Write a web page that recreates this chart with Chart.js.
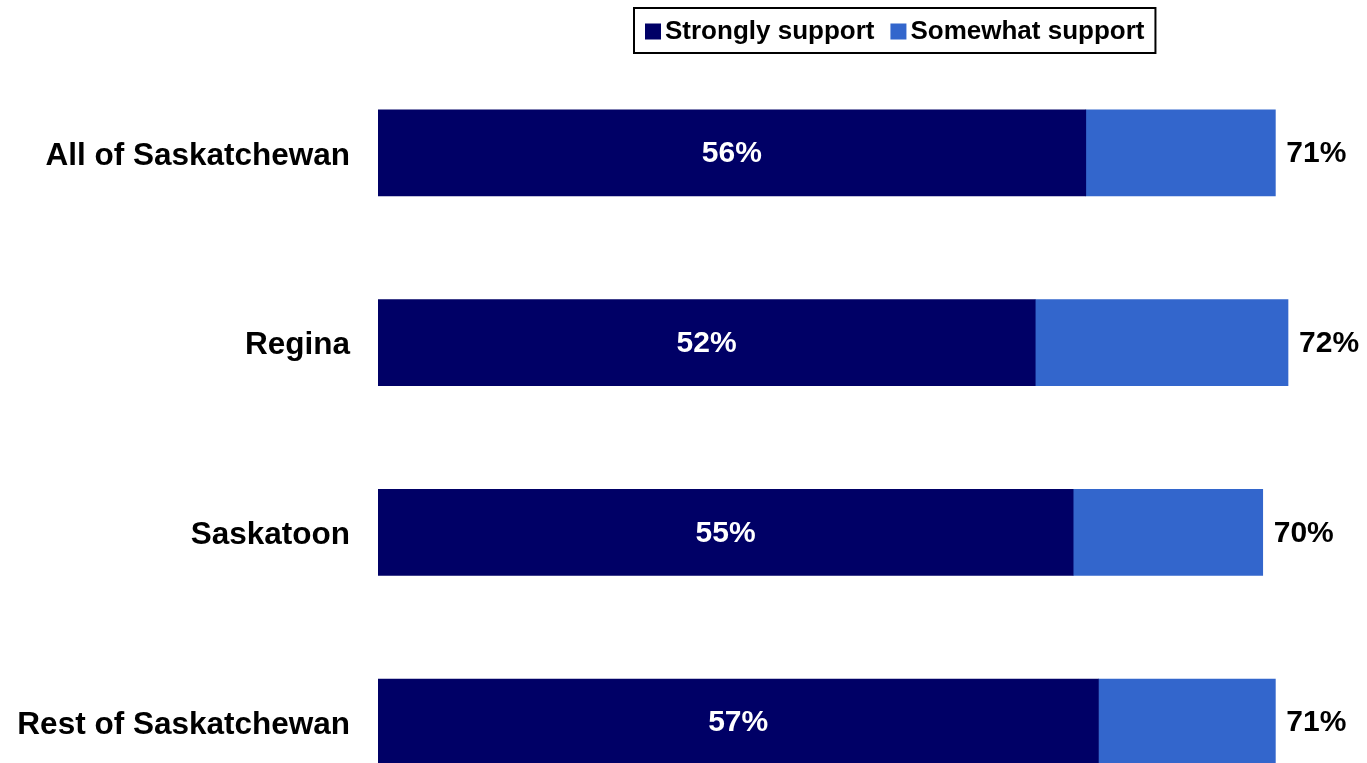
<!DOCTYPE html>
<html>
<head>
<meta charset="utf-8">
<script src="https://cdn.jsdelivr.net/npm/chart.js@4/dist/chart.umd.min.js"></script>
<style>
  html, body { margin: 0; padding: 0; overflow: hidden; background: #fff; }
  canvas { display: block; }
</style>
</head>
<body>
<canvas id="support-chart" width="1367" height="817"></canvas>
<script>
const regions = ["All of Saskatchewan", "Regina", "Saskatoon", "Rest of Saskatchewan"];
const stronglySupport = [56, 52, 55, 57];
const somewhatSupport = [15, 20, 15, 14];
const totalSupport = [71, 72, 70, 71];
const seriesNames = ["Strongly support", "Somewhat support"];

const FONT = "Arial, 'Liberation Sans', Helvetica, sans-serif";

// labels inside the dark bars and totals at the bar ends
const barLabels = {
  id: "barLabels",
  afterDatasetsDraw(chart) {
    const ctx = chart.ctx;
    ctx.save();
    ctx.font = "bold 30px " + FONT;
    ctx.textBaseline = "middle";
    chart.getDatasetMeta(0).data.forEach((bar, i) => {
      ctx.fillStyle = "#fff";
      ctx.textAlign = "center";
      ctx.fillText(stronglySupport[i] + "%", (bar.x + bar.base) / 2, bar.y + 1);
    });
    chart.getDatasetMeta(1).data.forEach((bar, i) => {
      ctx.fillStyle = "#000";
      ctx.textAlign = "left";
      ctx.fillText(totalSupport[i] + "%", bar.x + 11, bar.y + 1);
    });
    ctx.restore();
  }
};

// boxed legend, like the original
const boxedLegend = {
  id: "boxedLegend",
  afterDraw(chart) {
    const ctx = chart.ctx;
    ctx.save();
    ctx.font = "bold 26px " + FONT;
    const sq = 16, gapText = 4, gapItem = 16, padX = 11;
    const widths = chart.data.datasets.map(d => ctx.measureText(d.label).width);
    const inner = widths.reduce((a, w) => a + sq + gapText + w, 0) + gapItem;
    const w = inner + padX * 2;
    const cx = 894.5;
    const left = Math.round(cx - w / 2), top = 8, h = 45;
    ctx.strokeStyle = "#000";
    ctx.lineWidth = 2;
    ctx.strokeRect(left, top, w, h);
    let x = left + padX;
    const cy = top + h / 2;
    ctx.textBaseline = "middle";
    ctx.textAlign = "left";
    chart.data.datasets.forEach((d, i) => {
      ctx.fillStyle = d.backgroundColor;
      ctx.fillRect(x, cy - sq / 2 + 1, sq, sq);
      x += sq + gapText;
      ctx.fillStyle = "#000";
      ctx.fillText(d.label, x, cy + 1);
      x += widths[i] + gapItem;
    });
    ctx.restore();
  }
};

new Chart("support-chart", {
  type: "bar",
  data: {
    labels: regions,
    datasets: [
      { label: seriesNames[0], data: stronglySupport, backgroundColor: "#000066", barThickness: 86 },
      { label: seriesNames[1], data: somewhatSupport, backgroundColor: "#3366CC", barThickness: 86 }
    ]
  },
  options: {
    indexAxis: "y",
    responsive: false,
    devicePixelRatio: 1,
    animation: false,
    layout: { padding: { top: 58, left: 0, right: 0, bottom: 0 } },
    scales: {
      x: { stacked: true, min: 0, max: 78.25, display: false },
      y: {
        stacked: true,
        grid: { display: false, drawTicks: false },
        border: { display: false },
        ticks: { color: "#000", padding: 28, labelOffset: 3, font: { family: FONT, size: 31.5, weight: "bold" } },
        afterFit(scale) {
          scale.width = 378;
          scale.paddingTop = 0;
          scale.paddingBottom = 0;
        }
      }
    },
    plugins: {
      legend: { display: false },
      tooltip: { enabled: false }
    }
  },
  plugins: [barLabels, boxedLegend]
});
</script>
</body>
</html>
